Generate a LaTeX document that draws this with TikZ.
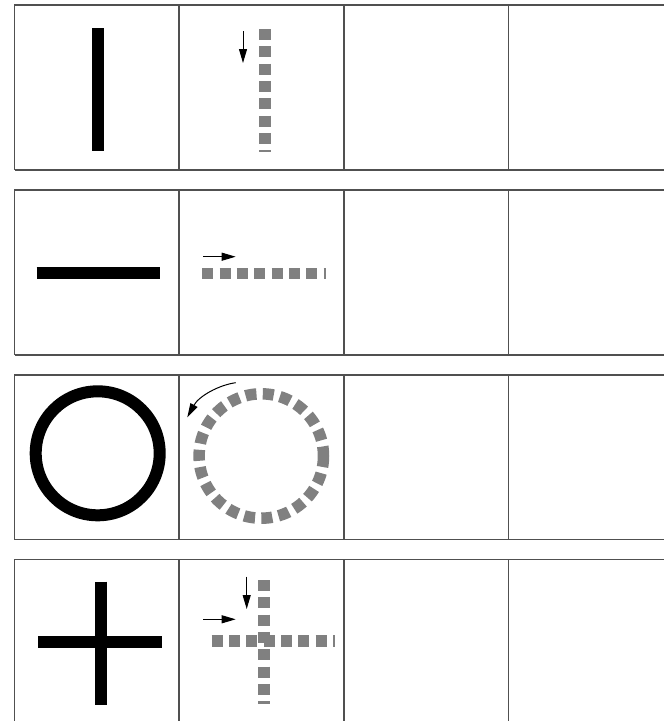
\documentclass[tikz,border=0pt]{standalone}
\usetikzlibrary{arrows.meta}
\definecolor{gridgray}{HTML}{505050}
\definecolor{dashgray}{HTML}{808080}
\tikzset{
  gridline/.style={draw=gridgray, line width=1.3pt},
  solidbar/.style={draw=black, line width=12pt},
  dashbar/.style={draw=dashgray, line width=11.5pt, dash pattern=on 11pt off 6.33pt},
  dirarrow/.style={draw=black, line width=1pt, -{Triangle[length=14pt,width=8pt]}}
}
\begin{document}
\begin{tikzpicture}[x=1pt,y=-1pt]
\useasboundingbox (0,0) rectangle (664,721);
% grid
\foreach \t/\b in {5/170,190/355,375/539.5,559.5/725}{
  \draw[gridline] (664,\t) -- (14.5,\t) -- (14.5,\b);
  \draw[gridline] (14.5,\b) -- (664,\b);
  \foreach \x in {179,344,508.5}{ \draw[gridline] (\x,\t) -- (\x,\b); }
}
% row 1
\draw[solidbar] (98,28) -- (98,151);
\draw[dashbar] (264.75,29) -- (264.75,151.7);
\draw[dirarrow] (243,31) -- (243,63);
% row 2
\draw[solidbar] (36.7,272.5) -- (160,272.5);
\draw[dashbar] (202.3,273.3) -- (325.6,273.3);
\draw[dirarrow] (203.3,256.7) -- (235.7,256.7);
% row 3
\draw[solidbar] (97.7,453.3) circle[radius=62];
\draw[dashbar] (261.3,456) circle[radius=62.2];
\draw[dirarrow] (235.7,382.7) .. controls (219,385) and (199,396) .. (187.3,417.3);
% row 4
\draw[solidbar] (101.3,581.7) -- (101.3,705);
\draw[solidbar] (38.3,641.5) -- (161.7,641.5);
\draw[dashbar] (264.2,580) -- (264.2,703.5);
\draw[dashbar] (211.7,640.8) -- (334.5,640.8);
\draw[dirarrow] (246.7,576.7) -- (246.7,609);
\draw[dirarrow] (203.3,619.3) -- (235.7,619.3);
\end{tikzpicture}
\end{document}
